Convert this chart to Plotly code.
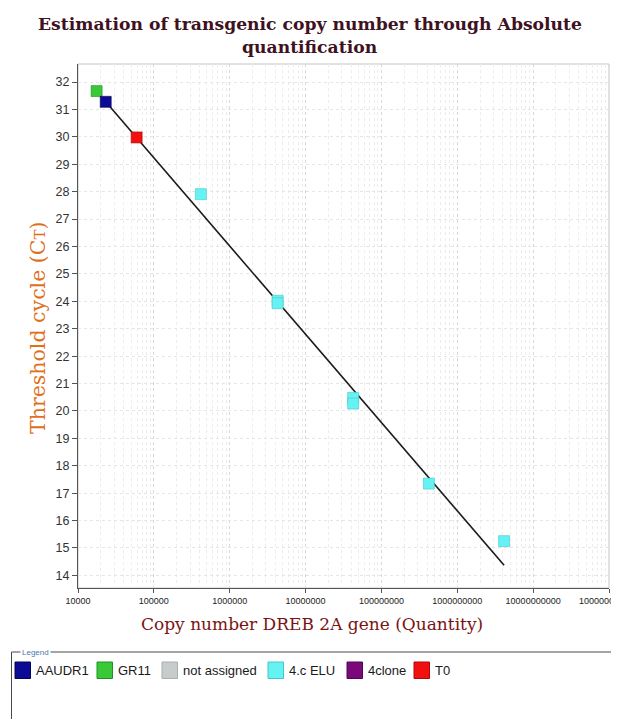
import plotly.graph_objects as go

# ---------------- data ----------------
aaudr1_qty = [2.32e4]
aaudr1_ct = [31.28]
gr11_qty = [1.76e4]
gr11_ct = [31.67]
t0_qty = [5.93e4]
t0_ct = [29.98]
elu_qty = [4.17e5, 4.28e6, 4.28e6, 4.24e7, 4.24e7, 4.22e8, 4.14e9]
elu_ct = [27.91, 24.02, 23.93, 20.48, 20.27, 17.35, 15.25]
std_curve_qty = [2.32e4, 4.14e9]
std_curve_ct = [31.28, 14.37]

legend_names = ["AAUDR1", "GR11", "not assigned", "4.c ELU", "4clone", "T0"]
legend_colors = ["#0b0b96", "#38c838", "#c6cbcb", "#66f2f2", "#7a0a7a", "#f01010"]
legend_edges = ["#050550", "#229022", "#a8adad", "#44c8c8", "#500550", "#b00808"]

x_tickvals = [1e4, 1e5, 1e6, 1e7, 1e8, 1e9, 1e10, 1e11]
x_ticktext = ["10000", "100000", "1000000", "10000000", "100000000",
              "1000000000", "10000000000", "100000000000"]
y_tickvals = list(range(14, 33))

# ---------------- layout geometry ----------------
# the page body adds an 8 px margin, so the figure is drawn 8 px smaller and
# all page positions below are given in window pixels and shifted by OFF.
OFF = 8
W, H = 619 - OFF, 719 - OFF
L, R, T, B = 78 - OFF, 10, 64 - OFF, 131
PW, PH = W - L - R, H - T - B


def px_x(px):
    return (px - OFF - L) / PW


def px_y(py):
    return (H - B - (py - OFF)) / PH


color_of = dict(zip(legend_names, legend_colors))
edge_of = dict(zip(legend_names, legend_edges))

fig = go.Figure()

fig.add_trace(go.Scatter(
    x=std_curve_qty, y=std_curve_ct, mode="lines", name="Standard curve",
    line=dict(color="#1a1a1a", width=1.6), showlegend=False, hoverinfo="skip"))


def add_series(name, xs, ys):
    fig.add_trace(go.Scatter(
        x=xs, y=ys, mode="markers", name=name, showlegend=False,
        marker=dict(symbol="square", size=11, color=color_of[name],
                    line=dict(color=edge_of[name], width=0.6))))


add_series("GR11", gr11_qty, gr11_ct)
add_series("AAUDR1", aaudr1_qty, aaudr1_ct)
add_series("T0", t0_qty, t0_ct)
add_series("4.c ELU", elu_qty, elu_ct)

serif = "DejaVu Serif"
sans = "Liberation Sans, Arial, sans-serif"

fig.update_layout(
    width=W, height=H,
    margin=dict(l=L, r=R, t=T, b=B, pad=0, autoexpand=False),
    paper_bgcolor="white", plot_bgcolor="white",
    showlegend=False,
    xaxis=dict(
        type="log", range=[4, 11], automargin=False,
        tickvals=x_tickvals, ticktext=x_ticktext, ticklabeloverflow="allow",
        tickfont=dict(family=sans, size=9, color="#222222"),
        ticks="outside", ticklen=4, tickcolor="#555555",
        showline=True, linecolor="#555555", linewidth=1,
        showgrid=True, gridcolor="#d8d8d8", griddash="dot", gridwidth=1,
        minor=dict(dtick="D1", showgrid=True, gridcolor="#ececec",
                   griddash="dot", gridwidth=1, ticks=""),
        zeroline=False),
    yaxis=dict(
        range=[13.54, 32.66], tickvals=y_tickvals, automargin=False,
        tickfont=dict(family=sans, size=12.5, color="#333333"),
        ticks="outside", ticklen=5, tickcolor="#555555",
        showline=True, linecolor="#555555", linewidth=1,
        showgrid=True, gridcolor="#e6e6e6", griddash="dot", gridwidth=1,
        zeroline=False),
)

# plot-area border (top / right light grey)
fig.add_shape(type="rect", xref="paper", yref="paper", x0=0, x1=1, y0=0, y1=1,
              line=dict(color="#c4c4c4", width=1), layer="below")

annotations = [
    dict(text="<b>Estimation of transgenic copy number through Absolute</b>",
         xref="paper", yref="paper", x=px_x(310), y=px_y(24),
         xanchor="center", yanchor="middle", showarrow=False,
         font=dict(family=serif, size=17.2, color="#3e1222")),
    dict(text="<b>quantification</b>",
         xref="paper", yref="paper", x=px_x(310), y=px_y(47),
         xanchor="center", yanchor="middle", showarrow=False,
         font=dict(family=serif, size=17.2, color="#3e1222")),
    dict(text="Copy number DREB 2A gene (Quantity)", xref="paper", yref="paper",
         x=px_x(312), y=px_y(624), xanchor="center", yanchor="middle",
         showarrow=False, font=dict(family=serif, size=17, color="#7a1414")),
    dict(text="Threshold cycle (C<span style='font-size:15px'>T</span>)",
         xref="paper", yref="paper", textangle=-90,
         x=px_x(38), y=px_y(328), xanchor="center", yanchor="middle",
         showarrow=False, font=dict(family=serif, size=20.5, color="#e0701c")),
]

# legend frame
shapes = [
    dict(type="rect", xref="paper", yref="paper",
         x0=px_x(11.5), x1=px_x(616.5), y0=px_y(740), y1=px_y(652),
         line=dict(color="#4a4a4a", width=1), fillcolor="rgba(0,0,0,0)"),
]
annotations.append(dict(text="Legend", xref="paper", yref="paper",
                        x=px_x(20), y=px_y(652), xanchor="left", yanchor="middle",
                        showarrow=False, bgcolor="white", borderpad=1,
                        font=dict(family=sans, size=8, color="#4a78b0")))

legend_x = [15, 97, 162, 268, 347, 414]
for name, col, edge, x0 in zip(legend_names, legend_colors, legend_edges, legend_x):
    shapes.append(dict(type="rect", xref="paper", yref="paper",
                       x0=px_x(x0), x1=px_x(x0 + 15.5),
                       y0=px_y(678.5), y1=px_y(662),
                       fillcolor=col, line=dict(color=edge, width=1)))
    annotations.append(dict(text=name, xref="paper", yref="paper",
                            x=px_x(x0 + 19), y=px_y(670.5),
                            xanchor="left", yanchor="middle", showarrow=False,
                            font=dict(family=sans, size=13, color="#1a1a1a")))

for s in shapes:
    fig.add_shape(**s)
fig.update_layout(annotations=annotations)

fig.write_html("out.html")
